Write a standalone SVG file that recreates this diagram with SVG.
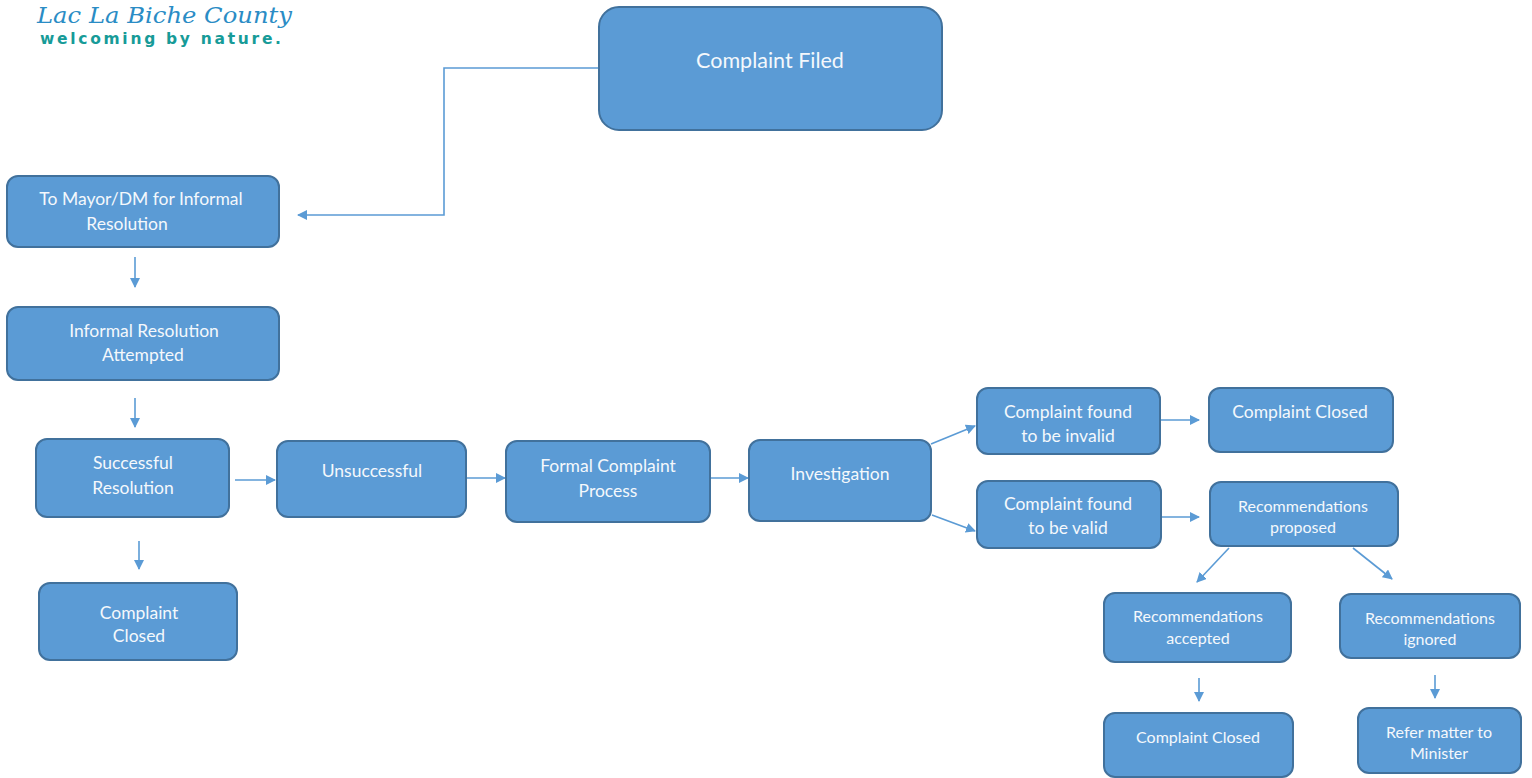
<svg xmlns="http://www.w3.org/2000/svg" width="1532" height="778" viewBox="0 0 1532 778">
<defs>
<marker id="ah" viewBox="0 0 10 10" refX="9" refY="5" markerWidth="10" markerHeight="10" markerUnits="userSpaceOnUse" orient="auto">
<path d="M0,0 L10,5 L0,10 z" fill="#5b9bd5"/>
</marker>
</defs>
<style>
.box{fill:#5b9bd5;stroke:#41719c;stroke-width:2}
.t{font-family:Lato,"Liberation Sans",sans-serif;fill:#f4f8fc;text-anchor:middle;dominant-baseline:central;font-size:17.5px}
.s{font-size:16px}
.big{font-size:21.5px}
.c{stroke:#5b9bd5;stroke-width:1.6;fill:none;marker-end:url(#ah)}
</style>
<rect width="1532" height="778" fill="#ffffff"/>
<g id="logo">
<text x="37" y="23" font-family="'DejaVu Serif',serif" font-style="italic" font-size="23" fill="#2a8cc5" textLength="255" lengthAdjust="spacingAndGlyphs">Lac La Biche County</text>
<text x="40" y="44" font-family="'DejaVu Sans',sans-serif" font-weight="bold" font-size="15.5" fill="#179b98" textLength="241" lengthAdjust="spacing">welcoming by nature.</text>
</g>
<g id="connectors">
<polyline class="c" points="598,68 444,68 444,215 298,215" stroke-width="1.2"/>
<line class="c" x1="135" y1="257" x2="135" y2="287"/>
<line class="c" x1="135" y1="398" x2="135" y2="427"/>
<line class="c" x1="139" y1="541" x2="139" y2="569"/>
<line class="c" x1="235" y1="480" x2="275" y2="480"/>
<line class="c" x1="466" y1="478" x2="505" y2="478"/>
<line class="c" x1="711" y1="478" x2="748" y2="478"/>
<line class="c" x1="931" y1="444" x2="975" y2="426"/>
<line class="c" x1="932" y1="515" x2="975" y2="531"/>
<line class="c" x1="1160" y1="420" x2="1199" y2="420"/>
<line class="c" x1="1161" y1="517" x2="1199" y2="517"/>
<line class="c" x1="1229" y1="548" x2="1197" y2="582"/>
<line class="c" x1="1353" y1="548" x2="1392" y2="579"/>
<line class="c" x1="1199" y1="678" x2="1199" y2="701"/>
<line class="c" x1="1435" y1="675" x2="1435" y2="698"/>
</g>
<g id="n-filed"><rect class="box" x="599" y="7" width="343" height="123" rx="20"/><text class="t big" x="770" y="60">Complaint Filed</text></g>
<g id="n-mayor"><rect class="box" x="7" y="176" width="272" height="71" rx="11"/><text class="t" x="141" y="198">To Mayor/DM for Informal</text><text class="t" x="127" y="223">Resolution</text></g>
<g id="n-attempted"><rect class="box" x="7" y="307" width="272" height="73" rx="11"/><text class="t" x="144" y="330">Informal Resolution</text><text class="t" x="143" y="354">Attempted</text></g>
<g id="n-successful"><rect class="box" x="36" y="439" width="193" height="78" rx="11"/><text class="t" x="133" y="462">Successful</text><text class="t" x="133" y="487">Resolution</text></g>
<g id="n-closed-left"><rect class="box" x="39" y="583" width="198" height="77" rx="11"/><text class="t" x="139" y="612">Complaint</text><text class="t" x="139" y="635">Closed</text></g>
<g id="n-unsuccessful"><rect class="box" x="277" y="441" width="189" height="76" rx="11"/><text class="t" x="372" y="470">Unsuccessful</text></g>
<g id="n-formal"><rect class="box" x="506" y="441" width="204" height="81" rx="11"/><text class="t" x="608" y="465">Formal Complaint</text><text class="t" x="608" y="490">Process</text></g>
<g id="n-investigation"><rect class="box" x="749" y="440" width="182" height="81" rx="11"/><text class="t" x="840" y="473">Investigation</text></g>
<g id="n-invalid"><rect class="box" x="977" y="388" width="183" height="66" rx="11"/><text class="t" x="1068" y="411">Complaint found</text><text class="t" x="1068" y="435">to be invalid</text></g>
<g id="n-closed-tr"><rect class="box" x="1209" y="388" width="184" height="64" rx="11"/><text class="t" x="1300" y="411">Complaint Closed</text></g>
<g id="n-valid"><rect class="box" x="977" y="481" width="184" height="67" rx="11"/><text class="t" x="1068" y="503">Complaint found</text><text class="t" x="1068" y="527">to be valid</text></g>
<g id="n-proposed"><rect class="box" x="1210" y="482" width="188" height="64" rx="11"/><text class="t s" x="1303" y="505">Recommendations</text><text class="t s" x="1303" y="526">proposed</text></g>
<g id="n-accepted"><rect class="box" x="1104" y="593" width="187" height="69" rx="11"/><text class="t s" x="1198" y="615">Recommendations</text><text class="t s" x="1198" y="637">accepted</text></g>
<g id="n-ignored"><rect class="box" x="1340" y="594" width="180" height="64" rx="11"/><text class="t s" x="1430" y="617">Recommendations</text><text class="t s" x="1430" y="638">ignored</text></g>
<g id="n-closed-bottom"><rect class="box" x="1104" y="713" width="189" height="64" rx="11"/><text class="t s" x="1198" y="736">Complaint Closed</text></g>
<g id="n-refer"><rect class="box" x="1358" y="708" width="163" height="65" rx="11"/><text class="t s" x="1439" y="731">Refer matter to</text><text class="t s" x="1439" y="752">Minister</text></g>
</svg>
